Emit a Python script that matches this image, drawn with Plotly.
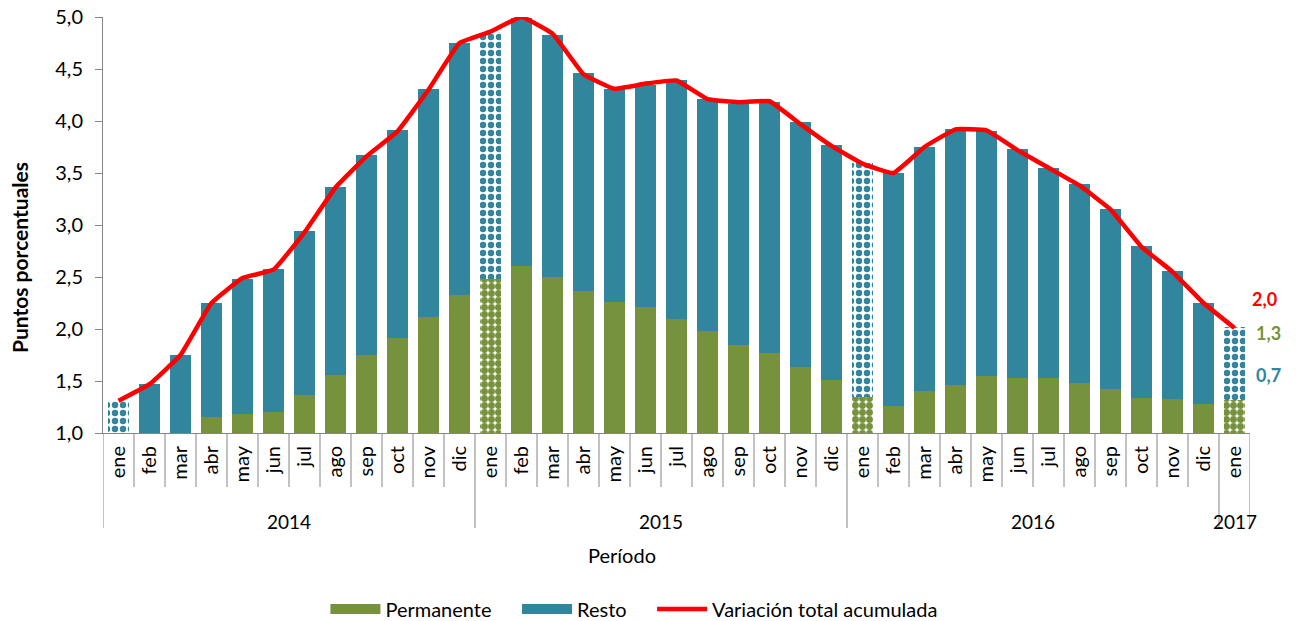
import plotly.graph_objects as go

months = ["ene", "feb", "mar", "abr", "may", "jun", "jul", "ago", "sep", "oct", "nov", "dic"]
years = ["2014", "2015", "2016", "2017"]
month_labels = months * 3 + ["ene"]

permanente = [0.90, 0.95, 0.98, 1.15, 1.18, 1.20, 1.37, 1.56, 1.75, 1.91, 2.12, 2.33,
              2.48, 2.61, 2.50, 2.37, 2.26, 2.21, 2.10, 1.98, 1.85, 1.77, 1.63, 1.51,
              1.35, 1.26, 1.40, 1.46, 1.55, 1.53, 1.53, 1.48, 1.42, 1.34, 1.33, 1.28,
              1.32]
resto = [0.41, 0.52, 0.77, 1.10, 1.30, 1.38, 1.57, 1.81, 1.92, 2.00, 2.19, 2.42,
         2.38, 2.38, 2.33, 2.09, 2.05, 2.14, 2.29, 2.23, 2.31, 2.41, 2.36, 2.26,
         2.25, 2.24, 2.35, 2.46, 2.35, 2.20, 2.02, 1.91, 1.73, 1.46, 1.23, 0.97,
         0.70]
total = [1.31, 1.47, 1.75, 2.25, 2.49, 2.57, 2.93, 3.36, 3.66, 3.90, 4.30, 4.75,
         4.86, 5.00, 4.84, 4.45, 4.31, 4.36, 4.39, 4.21, 4.18, 4.19, 3.97, 3.76,
         3.59, 3.50, 3.75, 3.92, 3.91, 3.72, 3.55, 3.38, 3.15, 2.79, 2.55, 2.25,
         2.01]

GREEN = "#77923C"
BLUE = "#31859C"
RED = "#FF0000"
FONT = "Lato"
LINECOL = "#868686"

n = len(month_labels)
xs = list(range(n))
is_jan = [m == "ene" for m in month_labels]

def split(vals, jan):
    return [None if j == jan else v for v, j in zip(vals, is_jan)]

fig = go.Figure()
fig.add_trace(go.Bar(x=xs, y=split(permanente, True), name="Permanente", showlegend=False,
                     legendgroup="p", marker=dict(color=GREEN, line=dict(width=0))))
fig.add_trace(go.Bar(x=xs, y=split(permanente, False), name="Permanente", showlegend=False,
                     legendgroup="p",
                     marker=dict(color=GREEN, line=dict(width=0),
                                 pattern=dict(shape=".", fgcolor=GREEN, bgcolor="white",
                                              size=7, solidity=0.75, fillmode="replace"))))
fig.add_trace(go.Bar(x=xs, y=split(resto, True), name="Resto", showlegend=False,
                     legendgroup="r", marker=dict(color=BLUE, line=dict(width=0))))
fig.add_trace(go.Bar(x=xs, y=split(resto, False), name="Resto", showlegend=False,
                     legendgroup="r",
                     marker=dict(color=BLUE, line=dict(width=0),
                                 pattern=dict(shape=".", fgcolor=BLUE, bgcolor="white",
                                              size=8, solidity=0.5, fillmode="replace"))))
fig.add_trace(go.Scatter(
    x=xs, y=total, name="Variación total acumulada", mode="lines", showlegend=False,
    legendgroup="t", line=dict(color=RED, width=4.5, shape="spline", smoothing=0.3),
))
for nm, col, grp in [("Permanente", GREEN, "p"), ("Resto", BLUE, "r")]:
    fig.add_trace(go.Scatter(x=[None], y=[None], mode="lines", name=nm + "\u00a0\u00a0\u00a0\u00a0",
                             legendgroup=grp, line=dict(color=col, width=12)))
fig.add_trace(go.Scatter(x=[None], y=[None], mode="lines", name="Variación total acumulada",
                         legendgroup="t", line=dict(color=RED, width=4.5)))

def fmt(v):
    return f"{v:.1f}".replace(".", ",")

L, R, T, B = 103, 46, 17, 188
W = 1296 - L - R
H = 621 - T - B
bot_px = T + H

def py(p):
    return (bot_px - p) / H

def px(p):
    return (p - L) / W

annots = [
    dict(x=px(1264), y=py(299), text=f"<b>{fmt(total[-1])}</b>", font=dict(color=RED, size=18)),
    dict(x=px(1268), y=py(333), text=f"<b>{fmt(permanente[-1])}</b>", font=dict(color=GREEN, size=18)),
    dict(x=px(1268), y=py(375), text=f"<b>{fmt(resto[-1])}</b>", font=dict(color=BLUE, size=18)),
]
for a in annots:
    a.update(xref="paper", yref="paper", showarrow=False, xanchor="center", yanchor="middle")

year_centers = [5.5, 17.5, 29.5, 36]
for yr, c in zip(years, year_centers):
    annots.append(dict(x=c, y=py(521), xref="x", yref="paper", text=yr, showarrow=False,
                       xanchor="center", yanchor="middle", font=dict(size=19, color="#000000")))
annots.append(dict(x=px(622), y=py(555), xref="paper", yref="paper", text="Período", showarrow=False,
                   xanchor="center", yanchor="middle", font=dict(size=20, color="#000000")))
annots.append(dict(x=px(19), y=py(258), xref="paper", yref="paper", text="<b>Puntos porcentuales</b>",
                   showarrow=False, textangle=-90, xanchor="center", yanchor="middle",
                   font=dict(size=21, color="#000000")))

shapes = []
year_bounds = {-0.5, 11.5, 23.5, 35.5, 36.5}
for i in range(n + 1):
    b = i - 0.5
    end = 528 if b in year_bounds else 487
    shapes.append(dict(type="line", xref="x", yref="paper", x0=b, x1=b, y0=0, y1=py(end),
                       line=dict(color=LINECOL, width=1)))

fig.update_layout(
    width=1296, height=621,
    margin=dict(l=L, r=R, t=T, b=B, autoexpand=False),
    plot_bgcolor="white", paper_bgcolor="white",
    barmode="stack", bargap=0.35,
    separators=",.",
    font=dict(family=FONT, size=20, color="#000000"),
    showlegend=True,
    legend=dict(orientation="h", x=px(330) - 0.004, xanchor="left", y=py(609), yanchor="middle",
                font=dict(size=20), itemwidth=50, traceorder="normal", bgcolor="rgba(0,0,0,0)"),
    annotations=annots,
    shapes=shapes,
)
fig.update_xaxes(
    range=[-0.5, n - 0.5], tickmode="array", tickvals=xs, ticktext=month_labels,
    tickangle=-90, showgrid=False, zeroline=False, showline=True, linecolor=LINECOL,
    ticks="", tickfont=dict(size=20), automargin=False, ticklabelstandoff=4,
)
fig.update_yaxes(
    range=[1.0, 5.0], dtick=0.5, tickformat=".1f", showgrid=False, zeroline=False,
    showline=True, linecolor=LINECOL, ticks="outside", ticklen=7, tickcolor=LINECOL,
    tickfont=dict(size=20), automargin=False, ticklabelstandoff=8,
)

fig.write_html("out.html", config={"displayModeBar": False},
               post_script="document.body.style.margin='0';document.body.style.overflow='hidden';")
